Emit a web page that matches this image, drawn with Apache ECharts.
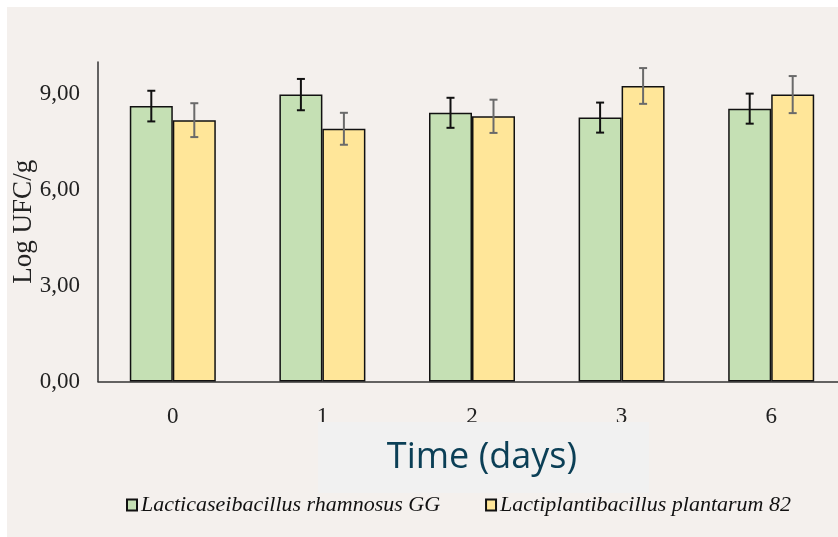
<!DOCTYPE html>
<html>
<head>
<meta charset="utf-8">
<script src="https://cdn.jsdelivr.net/npm/echarts@6/dist/echarts.min.js"></script>
<style>
  html, body { margin: 0; padding: 0; background: #ffffff; }
  #chart { width: 838px; height: 537px; }
</style>
</head>
<body>
<div id="chart"></div>
<script>
// Sampling days
const days = ['0', '1', '2', '3', '6'];

// Mean viable counts (log UFC/g) and standard deviations
const rhamnosusGG = [8.62, 8.98, 8.41, 8.26, 8.54];
const rhamnosusGGSd = [0.48, 0.49, 0.47, 0.47, 0.47];
const plantarum82 = [8.18, 7.91, 8.30, 9.25, 8.98];
const plantarum82Sd = [0.53, 0.50, 0.52, 0.56, 0.58];

const seriesNames = ['Lacticaseibacillus rhamnosus GG', 'Lactiplantibacillus plantarum 82'];
const yTicks = [0, 3, 6, 9];

const serif = '"Liberation Serif", "Times New Roman", serif';
const barW = 43;

// Error bars drawn on top of each bar, shifted to that bar's slot in the group
function errorBars(means, sds, shift, color) {
  return {
    type: 'custom',
    z: 5,
    silent: true,
    data: means.map((m, i) => [i, m - sds[i], m + sds[i]]),
    renderItem: function (params, api) {
      const lo = api.coord([api.value(0), api.value(1)]);
      const hi = api.coord([api.value(0), api.value(2)]);
      const x = lo[0] + shift;
      const cap = 4;
      const style = { stroke: color, lineWidth: 2 };
      return {
        type: 'group',
        children: [
          { type: 'line', shape: { x1: x, y1: hi[1], x2: x, y2: lo[1] }, style: style },
          { type: 'line', shape: { x1: x - cap, y1: hi[1], x2: x + cap, y2: hi[1] }, style: style },
          { type: 'line', shape: { x1: x - cap, y1: lo[1], x2: x + cap, y2: lo[1] }, style: style }
        ]
      };
    }
  };
}

const chart = echarts.init(document.getElementById('chart'), null, { renderer: 'canvas' });

chart.setOption({
  backgroundColor: '#ffffff',
  animation: false,
  graphic: [
    {
      type: 'rect', z: -10, silent: true,
      shape: { x: 7, y: 7, width: 831, height: 530 },
      style: { fill: '#f4f0ed' }
    },
    {
      type: 'rect', z: 100, silent: true,
      shape: { x: 318, y: 422, width: 331, height: 71 },
      style: { fill: '#f1f1f1' }
    },
    {
      type: 'text', z: 101, silent: true,
      x: 482, y: 458,
      style: {
        text: 'Time (days)',
        font: '36px "Open Sans", "Noto Sans", sans-serif',
        fill: '#0b3f56',
        align: 'center',
        verticalAlign: 'middle'
      }
    }
  ],
  grid: {
    left: 98,
    top: 62,
    width: 748,
    height: 319.5,
    containLabel: false,
    outerBoundsMode: 'none'
  },
  legend: {
    data: seriesNames,
    icon: 'rect',
    left: 126,
    top: 494,
    padding: 0,
    itemWidth: 10,
    itemHeight: 11,
    itemGap: 45,
    selectedMode: false,
    textStyle: {
      fontFamily: serif,
      fontStyle: 'italic',
      fontSize: 22,
      color: '#111',
      padding: [0, 0, 0, -1]
    }
  },
  xAxis: {
    type: 'category',
    data: days,
    axisLine: { lineStyle: { color: '#333', width: 1.5 } },
    axisTick: { show: false },
    axisLabel: { fontFamily: serif, fontSize: 23, color: '#222', margin: 24 },
    splitLine: { show: false }
  },
  yAxis: {
    type: 'value',
    min: 0,
    max: 10,
    interval: 3,
    name: 'Log UFC/g',
    nameLocation: 'middle',
    nameGap: 61,
    nameMoveOverlap: false,
    nameTextStyle: { fontFamily: serif, fontSize: 27, color: '#222' },
    axisLine: { show: true, lineStyle: { color: '#333', width: 1.5 } },
    axisTick: { show: false },
    splitLine: { show: false },
    axisLabel: {
      fontFamily: serif,
      fontSize: 23,
      color: '#222',
      margin: 18,
      formatter: function (v) {
        return yTicks.indexOf(v) >= 0 ? v.toFixed(2).replace('.', ',') : '';
      }
    }
  },
  series: [
    {
      name: seriesNames[0],
      type: 'bar',
      data: rhamnosusGG,
      barWidth: barW,
      barGap: '0%',
      itemStyle: { color: '#c5e0b4', borderColor: '#111', borderWidth: 1.5 }
    },
    {
      name: seriesNames[1],
      type: 'bar',
      data: plantarum82,
      barWidth: barW,
      barGap: '0%',
      itemStyle: { color: '#ffe699', borderColor: '#111', borderWidth: 1.5 }
    },
    errorBars(rhamnosusGG, rhamnosusGGSd, -barW / 2, '#111'),
    errorBars(plantarum82, plantarum82Sd, barW / 2, '#6a6a6a')
  ]
});
</script>
</body>
</html>
